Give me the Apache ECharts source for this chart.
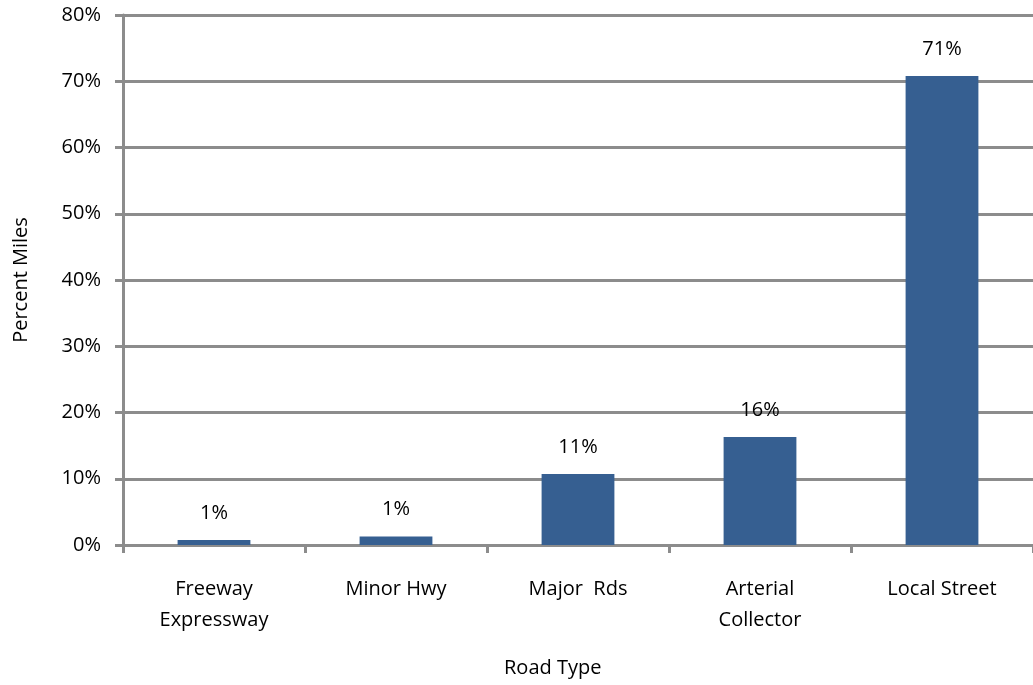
<!DOCTYPE html>
<html>
<head>
<meta charset="utf-8">
<style>
  html, body { margin: 0; padding: 0; background: #fff; }
  #chart { width: 1033px; height: 685px; }
</style>
<script src="https://cdn.jsdelivr.net/npm/echarts@6/dist/echarts.min.js"></script>
</head>
<body>
<div id="chart"></div>
<script>
// Share of road miles by road type
const roadTypes = ['Freeway\nExpressway', 'Minor Hwy', 'Major  Rds', 'Arterial\nCollector', 'Local Street'];
const percentMiles = [0.75, 1.3, 10.7, 16.3, 70.8];
const yTicks = [0, 10, 20, 30, 40, 50, 60, 70, 80];

const FONT = '"Open Sans", "Noto Sans", sans-serif';
const GRAY = '#8c8c8c';

const chart = echarts.init(document.getElementById('chart'), null, { renderer: 'canvas' });

chart.setOption({
  animation: false,
  backgroundColor: '#ffffff',
  grid: { left: 123, right: 0, top: 15, bottom: 140, containLabel: false },
  xAxis: {
    type: 'category',
    data: roadTypes,
    axisLine: { show: true, lineStyle: { color: GRAY, width: 3 } },
    axisTick: { show: true, alignWithLabel: false, length: 8, lineStyle: { color: GRAY, width: 3 } },
    axisLabel: {
      color: '#000',
      fontFamily: FONT,
      fontSize: 20,
      lineHeight: 31,
      margin: 29,
      interval: 0
    },
    splitLine: { show: false }
  },
  yAxis: {
    type: 'value',
    min: yTicks[0],
    max: yTicks[yTicks.length - 1],
    interval: 10,
    name: 'Percent Miles',
    nameLocation: 'middle',
    nameGap: 92,
    nameRotate: 90,
    nameTextStyle: { color: '#000', fontFamily: FONT, fontSize: 20 },
    axisLine: { show: true, lineStyle: { color: GRAY, width: 3 } },
    axisTick: { show: true, length: 8, lineStyle: { color: GRAY, width: 3 } },
    axisLabel: {
      color: '#000',
      fontFamily: FONT,
      fontSize: 20,
      margin: 22,
      formatter: v => v + '%'
    },
    splitLine: { show: true, lineStyle: { color: GRAY, width: 3 } }
  },
  series: [{
    type: 'bar',
    data: percentMiles,
    barWidth: '40%',
    itemStyle: { color: '#365F91' },
    label: {
      show: true,
      position: 'top',
      distance: 17,
      color: '#000',
      fontFamily: FONT,
      fontSize: 20,
      formatter: p => Math.round(p.value) + '%'
    }
  }],
  graphic: [{
    type: 'text',
    left: 504,
    top: 658,
    style: { text: 'Road Type', fill: '#000', font: '20px ' + FONT }
  }]
});
</script>
</body>
</html>
